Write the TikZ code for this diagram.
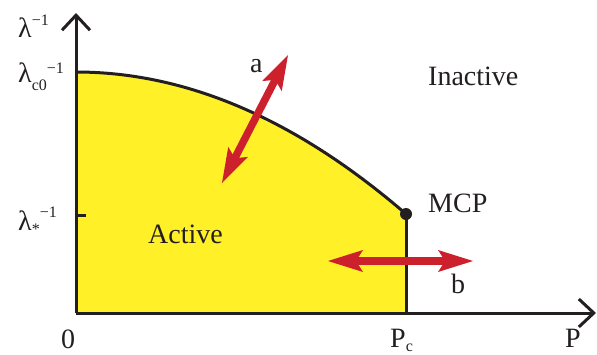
\documentclass[tikz,border=0pt]{standalone}
\usepackage{fontspec}
\setmainfont{Liberation Serif}
\usetikzlibrary{arrows.meta}
\definecolor{ink}{RGB}{35,31,32}
\definecolor{phaseyellow}{RGB}{255,240,40}
\definecolor{arrowred}{RGB}{204,32,44}
\newcommand\subsz{\fontsize{16}{18}\selectfont}
\begin{document}
\begin{tikzpicture}[x=1pt,y=-1pt,
  axis/.style={draw=ink,line width=3pt},
  axisarrow/.style={axis,-{Straight Barb[length=15pt,width=28pt]}},
  bigarrow/.style={line width=7.5pt,draw=arrowred,
    {Stealth[length=35pt,width=22pt,inset=7pt,line width=0pt]}-{Stealth[length=35pt,width=22pt,inset=7pt,line width=0pt]}},
  lbl/.style={text=ink,font=\fontsize{28}{30}\selectfont,inner sep=0pt,anchor=base west}]
\useasboundingbox (0,0) rectangle (597,354);
\coordinate (O) at (76,313);
\coordinate (ytop) at (76,13);
\coordinate (xtip) at (596,313);
\coordinate (c0) at (76,72);
\coordinate (mcp) at (406,214);
\coordinate (pc) at (406,313);
\coordinate (tickA) at (76,215);
\coordinate (tickB) at (86,215);
\coordinate (aS) at (222,183);
\coordinate (aE) at (288,55);
\coordinate (bS) at (328,261);
\coordinate (bE) at (473,261);
% active region
\fill[phaseyellow] (c0) .. controls (186,72) and (296,119) .. (mcp) -- (pc) -- (O) -- cycle;
% boundary
\draw[axis] (c0) .. controls (186,72) and (296,119) .. (mcp);
\draw[axis] (mcp) -- (pc);
\fill[ink] (mcp) circle (6);
% axes
\draw[axisarrow] (O) -- (ytop);
\draw[axisarrow] (O) -- (xtip);
\draw[axis] (tickA) -- (tickB);
% arrows
\draw[bigarrow] (aS) -- (aE);
\draw[bigarrow] (bS) -- (bE);
% labels
\node[lbl] (lyax) at (18,37) {λ\raisebox{12pt}{\subsz −1}};
\node[lbl] (lc0) at (18,82) {λ\raisebox{-8pt}{\subsz c0}\raisebox{9pt}{\subsz −1}};
\node[lbl] (lst) at (18,230) {λ\raisebox{-4pt}{\subsz *}\raisebox{13pt}{\subsz −1}};
\node[lbl] (zero) at (61,348) {0};
\node[lbl] (pclbl) at (390,347) {P\raisebox{-4pt}{\subsz c}};
\node[lbl] (plbl) at (565,347) {P};
\node[lbl] (inact) at (428,85) {Inactive};
\node[lbl] (act) at (148,243) {Active};
\node[lbl] (mcplbl) at (428,212) {MCP};
\node[lbl] (alb) at (250,72) {a};
\node[lbl] (blb) at (451,293) {b};
\end{tikzpicture}
\end{document}
